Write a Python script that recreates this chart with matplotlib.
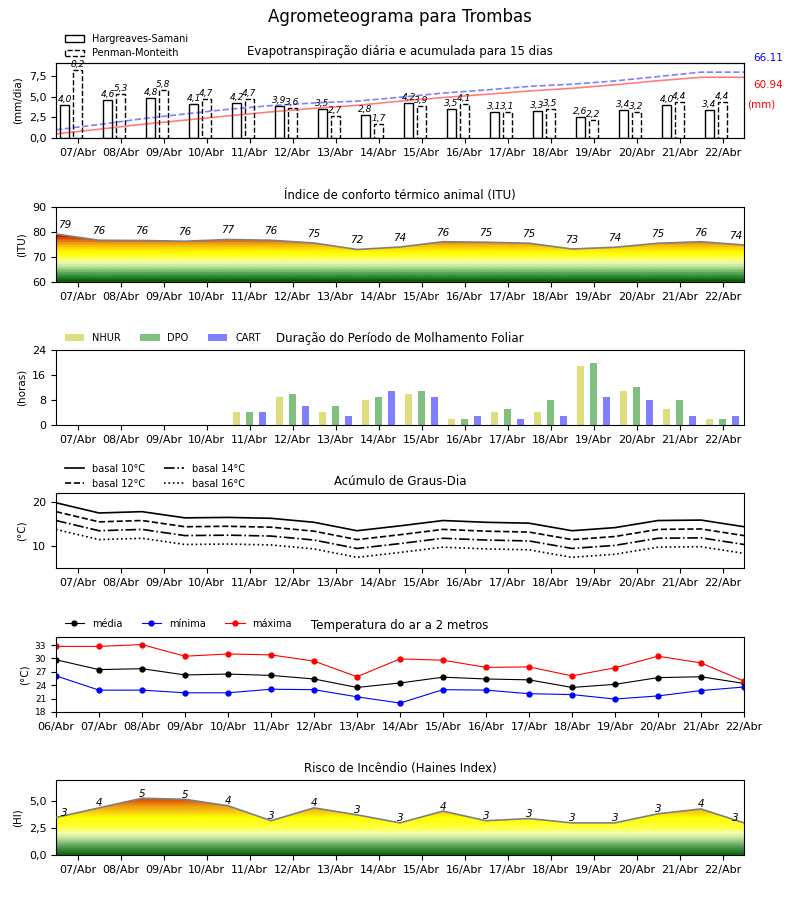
import numpy as np
import matplotlib
matplotlib.use('Agg')
import matplotlib.pyplot as plt
from matplotlib.colors import ListedColormap, LinearSegmentedColormap
from matplotlib.patches import Polygon, Rectangle
from matplotlib.ticker import FuncFormatter

# dias (rotulos do eixo x)
dias = ['07/Abr', '08/Abr', '09/Abr', '10/Abr', '11/Abr', '12/Abr', '13/Abr', '14/Abr',
        '15/Abr', '16/Abr', '17/Abr', '18/Abr', '19/Abr', '20/Abr', '21/Abr', '22/Abr']
dias_temp = ['06/Abr'] + dias

# evapotranspiracao diaria (mm/dia)
et_hs = [4.0, 4.6, 4.8, 4.1, 4.2, 3.9, 3.5, 2.8, 4.2, 3.5, 3.1, 3.3, 2.6, 3.4, 4.0, 3.4]
et_pm = [8.2, 5.3, 5.8, 4.7, 4.7, 3.6, 2.7, 1.7, 3.9, 4.1, 3.1, 3.5, 2.2, 3.2, 4.4, 4.4]
# evapotranspiracao acumulada (mm)
acum_hs = [4.1, 8.8, 13.7, 17.9, 22.2, 26.2, 29.8, 32.7, 37.0, 40.6, 43.8, 47.2, 49.9,
           53.4, 57.5, 60.94, 60.94]
acum_pm = [8.2, 13.5, 19.3, 24.1, 28.8, 32.5, 35.2, 37.0, 40.9, 45.1, 48.2, 51.8, 54.0,
           57.3, 61.7, 66.11, 66.11]

# indice de conforto termico (ITU)
itu = [79.2, 76.7, 76.6, 76.3, 77.0, 76.7, 75.6, 73.0, 74.0, 76.1, 75.9, 75.5, 73.2,
       73.9, 75.5, 76.1, 74.8]
itu_rot = [79, 76, 76, 76, 77, 76, 75, 72, 74, 76, 75, 75, 73, 74, 75, 76, 74]

# molhamento foliar (horas)
nhur = [0, 0, 0, 0, 4, 9, 4, 8, 10, 2, 4, 4, 19, 11, 5, 2]
dpo = [0, 0, 0, 0, 4, 10, 6, 9, 11, 2, 5, 8, 20, 12, 8, 2]
cart = [0, 0, 0, 0, 4, 6, 3, 11, 9, 3, 2, 3, 9, 8, 3, 3]

# graus-dia
gd10 = [19.8, 17.5, 17.8, 16.4, 16.5, 16.3, 15.4, 13.5, 14.6, 15.8, 15.4, 15.2, 13.5, 14.2, 15.8, 15.9, 14.4]
gd12 = [17.8, 15.5, 15.8, 14.4, 14.5, 14.3, 13.4, 11.5, 12.6, 13.8, 13.4, 13.2, 11.5, 12.2, 13.8, 13.9, 12.4]
gd14 = [15.8, 13.5, 13.8, 12.4, 12.5, 12.3, 11.4, 9.5, 10.6, 11.8, 11.4, 11.2, 9.5, 10.2, 11.8, 11.9, 10.4]
gd16 = [13.8, 11.5, 11.8, 10.4, 10.5, 10.3, 9.4, 7.5, 8.6, 9.8, 9.4, 9.2, 7.5, 8.2, 9.8, 9.9, 8.4]

# temperatura do ar (C)
t_med = [29.7, 27.5, 27.7, 26.3, 26.5, 26.2, 25.4, 23.5, 24.5, 25.8, 25.4, 25.2, 23.5, 24.2, 25.7, 25.9, 24.4]
t_min = [26.1, 22.9, 22.9, 22.3, 22.3, 23.1, 23.0, 21.4, 20.0, 23.0, 22.9, 22.1, 21.9, 20.9, 21.6, 22.8, 23.6]
t_max = [32.7, 32.7, 33.1, 30.5, 31.0, 30.8, 29.4, 25.9, 29.9, 29.6, 28.0, 28.1, 26.1, 27.9, 30.5, 29.0, 24.9]

# indice de Haines
haines = [3.5, 4.4, 5.3, 5.2, 4.6, 3.2, 4.4, 3.75, 3.0, 4.1, 3.2, 3.4, 3.0, 3.0, 3.85, 4.3, 3.0]
haines_rot = [3, 4, 5, 5, 4, 3, 4, 3, 3, 4, 3, 3, 3, 3, 3, 4, 3]

x = np.arange(len(dias))
xh = np.arange(len(dias_temp)) - 0.5   # pontos nas viradas de dia
virgula = FuncFormatter(lambda v, p: ('%.1f' % v).replace('.', ','))


def eixo_x(ax):
    ax.set_xticks(x)
    ax.set_xticklabels(dias, fontsize=8)
    ax.set_xlim(-0.5, 15.5)
    ax.tick_params(axis='y', labelsize=8)


def gradiente(ax, xs, ys, ymin, ymax, cmap):
    grad = np.linspace(ymin, ymax, 400).reshape(-1, 1)
    img = ax.imshow(grad, extent=[xs[0], xs[-1], ymin, ymax], origin='lower',
                    aspect='auto', cmap=cmap, vmin=ymin, vmax=ymax, zorder=1)
    verts = [(xs[0], ymin)] + list(zip(xs, ys)) + [(xs[-1], ymin)]
    clip = Polygon(verts, closed=True, facecolor='none', edgecolor='none')
    ax.add_patch(clip)
    img.set_clip_path(clip)
    ax.plot(xs, ys, color='grey', lw=1.2, zorder=3)


def rotulos(ax, ys, textos, dy):
    for xi, yi, t in zip(xh, ys, textos):
        xi = min(max(xi, -0.3), 15.3)
        ax.text(xi, yi + dy, str(t), ha='center', va='bottom', fontsize=7.5,
                style='italic', zorder=4)


fig = plt.figure(figsize=(8, 9), dpi=100)
fig.suptitle('Agrometeograma para Trombas', fontsize=12, y=0.991)

L, W, H = 0.07, 0.86, 0.0833
LX = 0.007   # deslocamento das legendas

# ---- evapotranspiracao
ax1 = fig.add_axes([L, 0.8467, W, H])
ax1.bar(x - 0.3, et_hs, 0.2, facecolor='white', edgecolor='k', lw=1)
ax1.bar(x, et_pm, 0.2, fill=False, edgecolor='k', lw=1, linestyle='--')
for xi, v in zip(x, et_hs):
    ax1.text(xi - 0.3, v + 0.12, ('%.1f' % v).replace('.', ','), ha='center',
             va='bottom', fontsize=6.5, style='italic')
for xi, v in zip(x, et_pm):
    ax1.text(xi, v + 0.12, ('%.1f' % v).replace('.', ','), ha='center',
             va='bottom', fontsize=6.5, style='italic')
ax1.set_ylim(0, 9.1)
ax1.set_yticks([0, 2.5, 5, 7.5])
ax1.yaxis.set_major_formatter(virgula)
ax1.set_ylabel('(mm/dia)', fontsize=7.5)
eixo_x(ax1)
ax1.set_title('Evapotranspiração diária e acumulada para 15 dias', fontsize=8.5)
h1 = [Rectangle((0, 0), 1, 1, facecolor='white', edgecolor='k'),
      Rectangle((0, 0), 1, 1, fill=False, edgecolor='k', linestyle='--')]
ax1.legend(h1, ['Hargreaves-Samani', 'Penman-Monteith'], loc='lower left',
           bbox_to_anchor=(LX, 1.01), fontsize=7, frameon=False, borderaxespad=0)
ax1b = ax1.twinx()
ax1b.plot(xh, acum_hs, color='red', alpha=0.5, lw=1.2)
ax1b.plot(xh, acum_pm, color='blue', alpha=0.5, lw=1.2, linestyle='--')
ax1b.set_ylim(0, 75.3)
ax1b.set_yticks([])
ax1b.set_xlim(-0.5, 15.5)
ax1.text(1.035, 1.067, '66.11', transform=ax1.transAxes, color='blue', fontsize=7.5,
         ha='center', va='center')
ax1.text(1.035, 0.707, '60.94', transform=ax1.transAxes, color='red', fontsize=7.5,
         ha='center', va='center')
ax1.text(1.025, 0.44, '(mm)', transform=ax1.transAxes, color='red', fontsize=7.5,
         ha='center', va='center')

# ---- ITU
cores_itu = ['#0b5d0b', '#1f7a1f', '#3a8f3a', '#5aa55a', '#7dbb6e', '#a3d48a',
             '#c8eaa0', '#e4f7a8', '#f4fb90', '#ffff60', '#ffff20', '#ffff00',
             '#fff000', '#ffd800', '#f8bc10', '#f09a10', '#e47410', '#d84800',
             '#cc1800', '#c80000'] + ['#c00000'] * 10
ax2 = fig.add_axes([L, 0.6867, W, H])
gradiente(ax2, xh, itu, 60, 90, ListedColormap(cores_itu))
rotulos(ax2, itu, itu_rot, 1.6)
ax2.set_ylim(60, 90)
ax2.set_yticks([60, 70, 80, 90])
ax2.set_ylabel('(ITU)', fontsize=7.5)
eixo_x(ax2)
ax2.set_title('Índice de conforto térmico animal (ITU)', fontsize=8.5)

# ---- molhamento foliar
ax3 = fig.add_axes([L, 0.5278, W, H])
ax3.bar(x - 0.3, nhur, 0.17, color='y', alpha=0.5, label='NHUR')
ax3.bar(x, dpo, 0.17, color='g', alpha=0.5, label='DPO')
ax3.bar(x + 0.3, cart, 0.17, color='b', alpha=0.5, label='CART')
ax3.set_ylim(0, 24)
ax3.set_yticks([0, 8, 16, 24])
ax3.set_ylabel('(horas)', fontsize=7.5)
eixo_x(ax3)
ax3.set_title('Duração do Período de Molhamento Foliar', fontsize=8.5)
ax3.legend(loc='lower left', bbox_to_anchor=(LX, 1.045), ncol=3, fontsize=7,
           frameon=False, borderaxespad=0)

# ---- graus-dia
ax4 = fig.add_axes([L, 0.3689, W, H])
ax4.plot(xh, gd10, 'k-', lw=1.2, label='basal 10°C')
ax4.plot(xh, gd12, 'k--', lw=1.2, label='basal 12°C')
ax4.plot(xh, gd14, 'k-.', lw=1.2, label='basal 14°C')
ax4.plot(xh, gd16, 'k:', lw=1.2, label='basal 16°C')
ax4.set_ylim(5.1, 22)
ax4.set_yticks([10, 20])
ax4.set_ylabel('(°C)', fontsize=7.5)
eixo_x(ax4)
ax4.set_title('Acúmulo de Graus-Dia', fontsize=8.5)
ax4.legend(loc='lower left', bbox_to_anchor=(LX, 1.005), ncol=2, fontsize=7,
           frameon=False, borderaxespad=0)

# ---- temperatura
ax5 = fig.add_axes([L, 0.2089, W, H])
ax5.plot(xh, t_med, 'k-o', lw=0.8, ms=3.5, label='média')
ax5.plot(xh, t_min, 'b-o', lw=0.8, ms=3.5, label='mínima')
ax5.plot(xh, t_max, 'r-o', lw=0.8, ms=3.5, label='máxima')
ax5.set_xticks(xh)
ax5.set_xticklabels(dias_temp, fontsize=8)
ax5.set_xlim(-0.5, 15.5)
ax5.set_ylim(18, 34.8)
ax5.set_yticks([18, 21, 24, 27, 30, 33])
ax5.tick_params(axis='y', labelsize=6.5)
ax5.set_ylabel('(°C)', fontsize=7.5)
ax5.set_title('Temperatura do ar a 2 metros', fontsize=8.5)
ax5.legend(loc='lower left', bbox_to_anchor=(LX, 1.06), ncol=3, fontsize=7,
           frameon=False, borderaxespad=0)

# ---- Haines
cmap_h = LinearSegmentedColormap.from_list('haines', [
    (0.0, '#0a640a'), (0.08, '#3c8c3c'), (0.15, '#78b46e'), (0.22, '#c0e0a0'),
    (0.29, '#f0ffb0'), (0.36, '#ffff40'), (0.5, '#ffff00'), (0.57, '#f8d010'),
    (0.65, '#f0a010'), (0.72, '#e06008'), (0.78, '#d04000'), (1.0, '#c80000')])
ax6 = fig.add_axes([L, 0.05, W, H])
gradiente(ax6, xh, haines, 0, 7.0, cmap_h)
rotulos(ax6, haines, haines_rot, -0.05)
ax6.set_ylim(0, 7.0)
ax6.set_yticks([0, 2.5, 5])
ax6.yaxis.set_major_formatter(virgula)
ax6.set_ylabel('(HI)', fontsize=7.5)
eixo_x(ax6)
ax6.set_title('Risco de Incêndio (Haines Index)', fontsize=8.5)

plt.savefig('out.png', dpi=100)
